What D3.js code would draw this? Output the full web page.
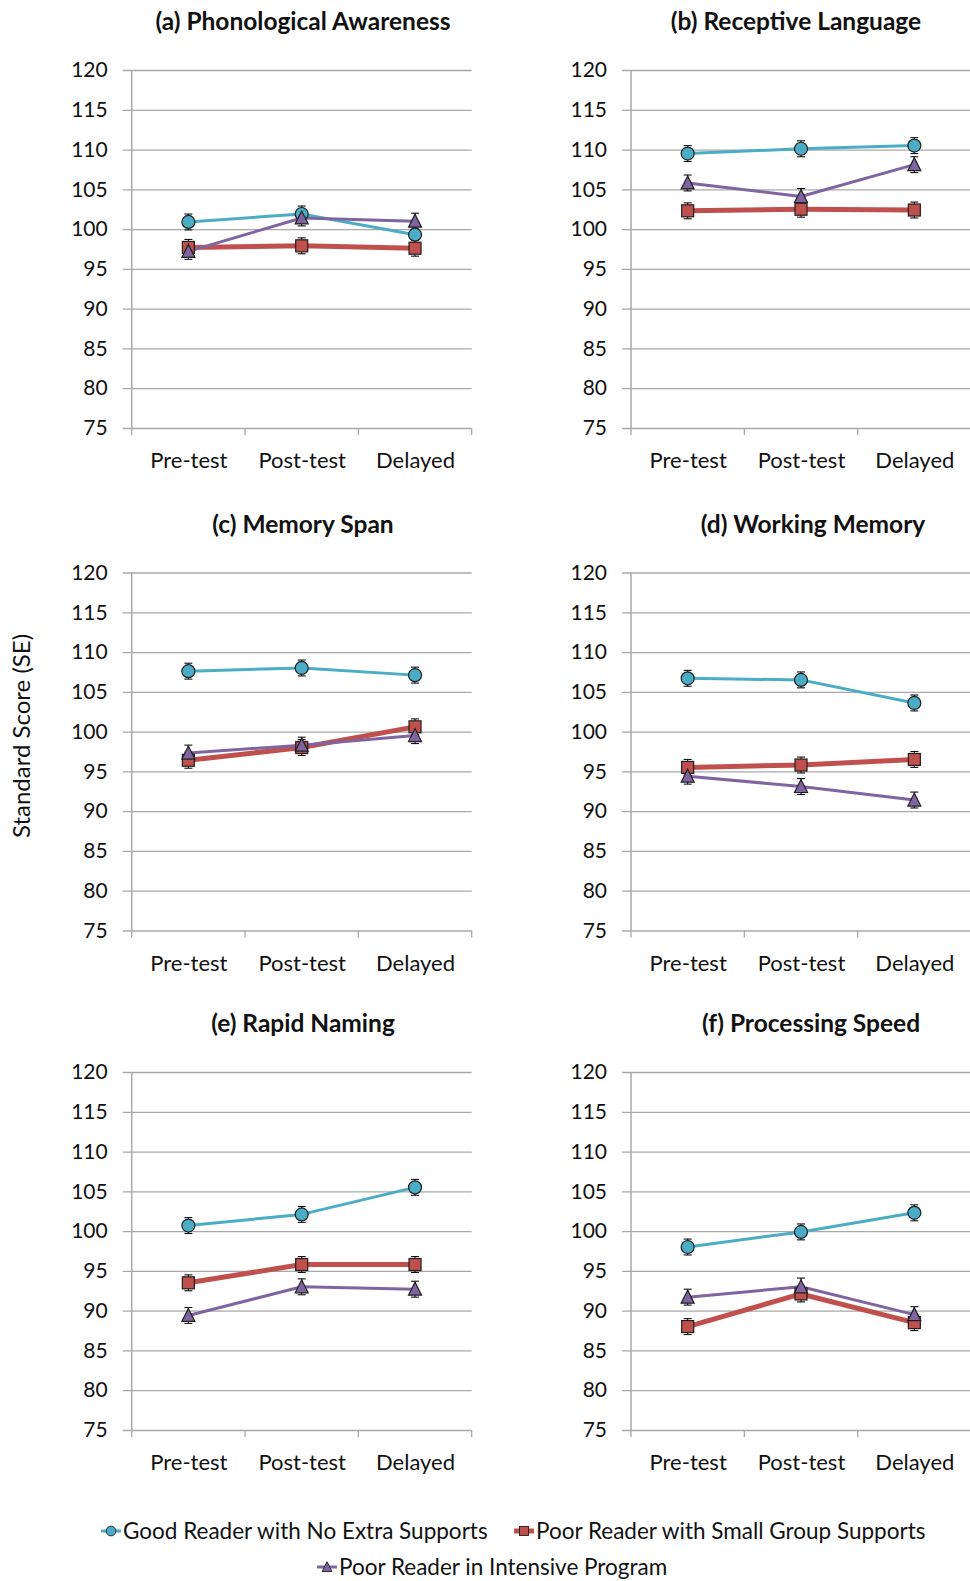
<!DOCTYPE html>
<html>
<head>
<meta charset="utf-8">
<script src="https://cdn.jsdelivr.net/npm/d3@7"></script>
<style>
	body { margin: 0; background: #fff; }
	svg { display: block; font-family: Lato, 'Open Sans', sans-serif; }
</style>
</head>
<body>
<div id="chart"></div>
<script>
// values
const categories = ['Pre-test', 'Post-test', 'Delayed'];
const yTicks = [75, 80, 85, 90, 95, 100, 105, 110, 115, 120];
const panelTitles = ['(a) Phonological Awareness', '(b) Receptive Language', '(c) Memory Span',
	'(d) Working Memory', '(e) Rapid Naming', '(f) Processing Speed'];
const seriesNames = ['Good Reader with No Extra Supports', 'Poor Reader with Small Group Supports',
	'Poor Reader in Intensive Program'];

const goodReader = [
	[100.9, 101.9, 99.3],
	[109.5, 110.1, 110.5],
	[107.6, 108.0, 107.1],
	[106.7, 106.5, 103.6],
	[100.7, 102.1, 105.5],
	[98.0, 99.9, 102.3]
];
const smallGroup = [
	[97.7, 97.9, 97.6],
	[102.3, 102.5, 102.4],
	[96.4, 98.0, 100.6],
	[95.5, 95.8, 96.5],
	[93.5, 95.8, 95.8],
	[88.0, 92.1, 88.5]
];
const intensive = [
	[97.2, 101.4, 101.0],
	[105.8, 104.1, 108.1],
	[97.3, 98.3, 99.5],
	[94.4, 93.1, 91.4],
	[89.4, 93.0, 92.7],
	[91.7, 93.0, 89.5]
];
// standard errors
const goodSE = [
	[1.0, 1.0, 1.0],
	[1.0, 1.0, 1.0],
	[1.0, 1.0, 1.0],
	[1.0, 1.0, 1.0],
	[1.0, 1.0, 1.0],
	[1.0, 1.0, 1.0]
];
const smallSE = [
	[1.0, 1.0, 1.0],
	[1.0, 1.0, 1.0],
	[1.0, 1.0, 1.0],
	[1.0, 1.0, 1.0],
	[1.0, 1.0, 1.0],
	[1.0, 1.0, 1.0]
];
const intensiveSE = [
	[1.0, 1.0, 1.0],
	[1.0, 1.0, 1.0],
	[1.0, 1.0, 1.0],
	[1.0, 1.0, 1.0],
	[1.0, 1.0, 1.0],
	[1.0, 1.1, 1.0]
];

const option = {
	width: 970,
	height: 1581,
	plotW: 340,
	plotH: 358,
	colX: [131.7, 631],
	rowY: [70, 572.5, 1072],
	titleX: [303, 796, 303, 813, 303, 811],
	colors: ['#4BACC6', '#C0504D', '#8064A2'],
	lineWidth: [3, 5, 3],
	markers: ['circle', 'square', 'triangle']
};

const svg = d3.select('#chart').append('svg')
	.attr('width', option.width)
	.attr('height', option.height);

svg.append('rect')
	.attr('width', option.width)
	.attr('height', option.height)
	.attr('fill', '#fff');

const xPoint = d3.scalePoint().domain(categories).range([0, option.plotW]).padding(0.5);
const xBand = d3.scaleBand().domain(categories).range([0, option.plotW]);
const yScale = d3.scaleLinear().domain([75, 120]).range([option.plotH, 0]);

const drawMarker = function (g, type, x, y, color) {
	if (type === 'circle') {
		g.append('circle')
			.attr('cx', x).attr('cy', y).attr('r', 6.5)
			.attr('fill', color).attr('stroke', '#1f1f1f').attr('stroke-width', 1.2);
	} else if (type === 'square') {
		g.append('rect')
			.attr('x', x - 6).attr('y', y - 6).attr('width', 12).attr('height', 12)
			.attr('fill', color).attr('stroke', '#1f1f1f').attr('stroke-width', 1.2);
	} else {
		g.append('path')
			.attr('d', `M${x},${y - 7}L${x + 6.5},${y + 6}L${x - 6.5},${y + 6}Z`)
			.attr('fill', color).attr('stroke', '#1f1f1f').attr('stroke-width', 1.2);
	}
}

const drawPanel = function (i) {
	let col = i % 2, row = Math.floor(i / 2);
	let g = svg.append('g')
		.attr('transform', `translate(${option.colX[col]}, ${option.rowY[row]})`);

	svg.append('text')
		.attr('x', option.titleX[i])
		.attr('y', option.rowY[row] - 40)
		.attr('text-anchor', 'middle')
		.attr('font-weight', 700)
		.style('font-size', '24.5px')
		.style('fill', '#111')
		.text(panelTitles[i]);

	// grid + y labels
	let yAxis = g.append('g')
		.attr('transform', 'translate(-9,0)')
		.call(d3.axisLeft(yScale).tickValues(yTicks).tickSize(-(option.plotW + 9)).tickPadding(15));
	yAxis.select('.domain').remove();
	yAxis.selectAll('line').attr('stroke', '#a8a8a8').attr('stroke-width', 1.3);
	yAxis.selectAll('text')
		.style('font-size', '21px')
		.style('font-family', 'Lato, sans-serif')
		.attr('fill', '#111');

	g.append('line')
		.attr('x1', 0).attr('x2', 0)
		.attr('y1', 0).attr('y2', option.plotH)
		.attr('stroke', '#a8a8a8').attr('stroke-width', 1.5);

	// category tick marks between bands
	let edges = categories.map(c => xBand(c)).concat([option.plotW]);
	g.selectAll('.xtick')
		.data(edges)
		.enter().append('line')
		.attr('x1', d => d).attr('x2', d => d)
		.attr('y1', option.plotH).attr('y2', option.plotH + 7)
		.attr('stroke', '#a8a8a8').attr('stroke-width', 1.3);

	let xAxis = g.append('g')
		.attr('transform', `translate(0, ${option.plotH})`)
		.call(d3.axisBottom(xPoint).tickSize(0));
	xAxis.select('.domain').remove();
	xAxis.selectAll('text')
		.attr('y', 40).attr('dy', null)
		.style('font-size', '22px')
		.style('font-family', 'Lato, sans-serif')
		.attr('fill', '#111');

	let groups = [goodReader[i], smallGroup[i], intensive[i]];
	let errors = [goodSE[i], smallSE[i], intensiveSE[i]];
	let line = d3.line()
		.x((d, k) => xPoint(categories[k]))
		.y(d => yScale(d));

	groups.forEach((vals, s) => {
		g.append('path')
			.datum(vals)
			.attr('d', line)
			.attr('fill', 'none')
			.attr('stroke', option.colors[s])
			.attr('stroke-width', option.lineWidth[s])
			.attr('stroke-linejoin', 'round');
	});

	groups.forEach((vals, s) => {
		let eg = g.append('g');
		vals.forEach((v, k) => {
			let x = xPoint(categories[k]),
				y1 = yScale(v + errors[s][k]),
				y2 = yScale(v - errors[s][k]);
			eg.append('line').attr('x1', x).attr('x2', x).attr('y1', y1).attr('y2', y2)
				.attr('stroke', '#111').attr('stroke-width', 1.1);
			eg.append('line').attr('x1', x - 4).attr('x2', x + 4).attr('y1', y1).attr('y2', y1)
				.attr('stroke', '#111').attr('stroke-width', 1.1);
			eg.append('line').attr('x1', x - 4).attr('x2', x + 4).attr('y1', y2).attr('y2', y2)
				.attr('stroke', '#111').attr('stroke-width', 1.1);
		});
	});

	groups.forEach((vals, s) => {
		let mg = g.append('g');
		vals.forEach((v, k) => {
			drawMarker(mg, option.markers[s], xPoint(categories[k]), yScale(v), option.colors[s]);
		});
	});
}

const drawLegend = function () {
	let items = [
		{ x: 101, y: 1531 },
		{ x: 514, y: 1531 },
		{ x: 317, y: 1567 }
	];
	let legend = svg.selectAll('.legend')
		.data(seriesNames)
		.enter().append('g')
		.attr('transform', (d, i) => `translate(${items[i].x}, ${items[i].y})`);

	legend.append('line')
		.attr('x1', 0).attr('x2', 20)
		.attr('y1', 0).attr('y2', 0)
		.attr('stroke', (d, i) => option.colors[i])
		.attr('stroke-width', (d, i) => option.lineWidth[i]);
	legend.each(function (d, i) {
		let m = d3.select(this).append('g');
		drawMarker(m, option.markers[i], 10, 0, option.colors[i]);
		m.selectAll('*').attr('transform', 'translate(10,0) scale(0.75) translate(-10,0)');
	});
	legend.append('text')
		.attr('x', 22)
		.attr('y', 0)
		.attr('dy', '0.35em')
		.style('font-size', '22.5px')
		.style('fill', '#111')
		.text(d => d);
}

for (let i = 0; i < 6; i++) drawPanel(i);

svg.append('text')
	.attr('transform', 'translate(30, 736) rotate(-90)')
	.attr('text-anchor', 'middle')
	.style('font-size', '24px')
	.style('fill', '#111')
	.text('Standard Score (SE)');

drawLegend();
</script>
</body>
</html>
